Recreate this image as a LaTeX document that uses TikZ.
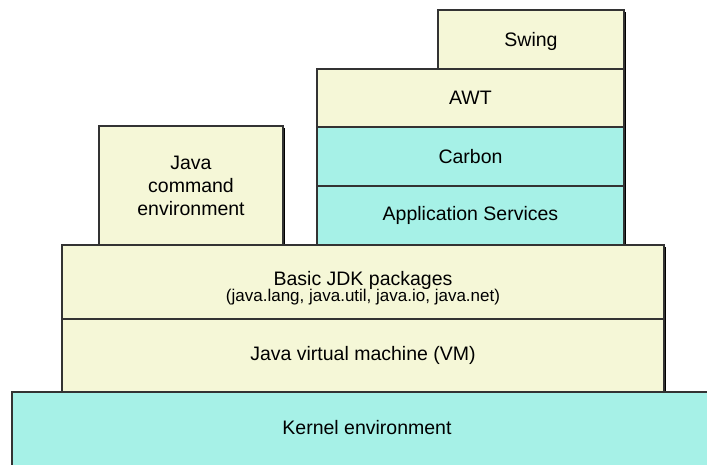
\documentclass[tikz,border=0pt]{standalone}
\usepackage{fontspec}
\setmainfont{Liberation Sans}
\usetikzlibrary{shadows}
\definecolor{ylw}{HTML}{F5F7D7}
\definecolor{cyn}{HTML}{A6F1E7}
\definecolor{edge}{HTML}{333333}
\newcommand{\shiftdown}[2]{\raisebox{-#1}[\height][\depth]{#2}}
\tikzset{
  layer/.style={draw=edge, line width=1.2pt, inner sep=0pt, outer sep=0pt, anchor=north west,
    align=center, font=\fontsize{19.5}{23}\selectfont,
    drop shadow={shadow xshift=2pt, shadow yshift=-2pt, fill=black, opacity=1}},
  ylayer/.style={layer, fill=ylw},
  clayer/.style={layer, fill=cyn}
}
\begin{document}
\begin{tikzpicture}[x=1pt,y=1pt]
\useasboundingbox (0,0) rectangle (707,465);
\clip (0,0) rectangle (707,465);
\node[ylayer, minimum width=186, minimum height=59] (swing) at (438,455) {\shiftdown{2pt}{Swing}};
\node[ylayer, minimum width=307, minimum height=58] (awt) at (317,396) {AWT};
\node[clayer, minimum width=307, minimum height=59] (carbon) at (317,338) {Carbon};
\node[clayer, minimum width=307, minimum height=59] (apps) at (317,279) {Application Services};
\node[ylayer, minimum width=184, minimum height=119] (cmd) at (99,339) {Java\\command\\environment};
\node[ylayer, minimum width=602, minimum height=74] (jdk) at (62,220)
  {\shiftdown{7pt}{\begin{tabular}{@{}c@{}}Basic JDK packages\\[-7pt]{\fontsize{17}{20}\selectfont (java.lang, java.util, java.io, java.net)}\end{tabular}}};
\node[ylayer, minimum width=602, minimum height=73] (jvm) at (62,146) {Java virtual machine (VM)};
\node[clayer, minimum width=710, minimum height=76] (kernel) at (12,73) {\shiftdown{-2pt}{Kernel environment}};
\end{tikzpicture}
\end{document}
